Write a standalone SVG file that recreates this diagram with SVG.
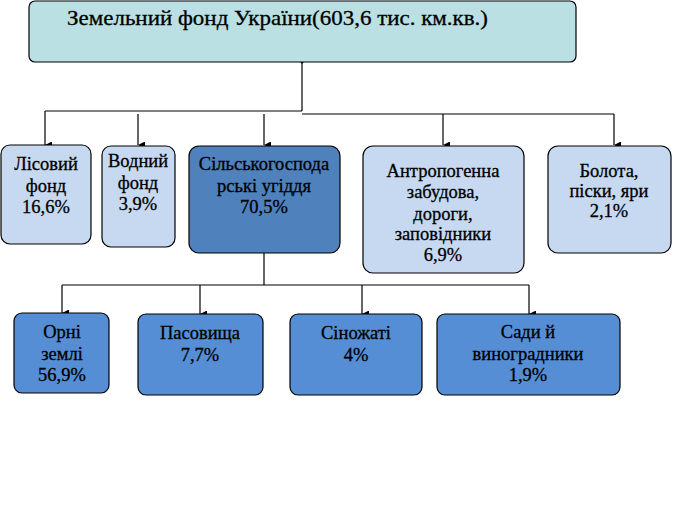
<svg xmlns="http://www.w3.org/2000/svg" width="700" height="516" viewBox="0 0 700 516">
<defs>
<style>
.box{stroke:#000;stroke-width:1.2}
.top{fill:#BBE0E3}
.lt{fill:#C6D9F1}
.dk{fill:#4F81BD}
.md{fill:#558ED5}
.ln{stroke:#000;stroke-width:1.2;fill:none}
.lbl text{stroke:#000;stroke-width:0.3}
</style>
<marker id="ah" markerWidth="8" markerHeight="8" refX="3.5" refY="7" orient="auto" markerUnits="userSpaceOnUse">
<path d="M0,0 L7,0 L3.5,7 Z" fill="#000"/>
</marker>
</defs>
<rect width="700" height="516" fill="#fff"/>
<g id="connectors">
<path class="ln" d="M302,62 V111"/>
<path class="ln" d="M45,111 H302" stroke-width="2"/>
<path class="ln" d="M302,114 H614"/>
<path class="ln" d="M45,111 V145" marker-end="url(#ah)"/>
<path class="ln" d="M138,114 V145" marker-end="url(#ah)"/>
<path class="ln" d="M264,114 V145" marker-end="url(#ah)"/>
<path class="ln" d="M443,114 V145" marker-end="url(#ah)"/>
<path class="ln" d="M614,114 V145" marker-end="url(#ah)"/>
<path class="ln" d="M264,253 V285"/>
<path class="ln" d="M62,285 H529"/>
<path class="ln" d="M62,285 V313" marker-end="url(#ah)"/>
<path class="ln" d="M200,285 V314" marker-end="url(#ah)"/>
<path class="ln" d="M362,285 V314" marker-end="url(#ah)"/>
<path class="ln" d="M529,285 V314" marker-end="url(#ah)"/>
<circle cx="302" cy="62" r="1.5" fill="#000"/>
</g>
<g class="lbl" font-family="Liberation Serif, serif" font-size="18.5" text-anchor="middle" fill="#000">
<g id="n-root">
<rect class="box top" x="29" y="1" width="547" height="61" rx="6"/>
<text x="67" y="25" font-size="21" text-anchor="start" textLength="421" lengthAdjust="spacingAndGlyphs">Земельний фонд України(603,6 тис. км.кв.)</text>
</g>
<g id="n-lis">
<rect class="box lt" x="1" y="145" width="90" height="99" rx="9"/>
<text x="46" y="170">Лісовий</text>
<text x="46" y="192">фонд</text>
<text x="46" y="213">16,6%</text>
</g>
<g id="n-vod">
<rect class="box lt" x="102" y="146" width="73" height="101" rx="9"/>
<text x="138" y="167">Водний</text>
<text x="138" y="189">фонд</text>
<text x="138" y="210">3,9%</text>
</g>
<g id="n-silg">
<rect class="box dk" x="189" y="146" width="151" height="107" rx="10"/>
<text x="264" y="170">Сільськогоспода</text>
<text x="264" y="192">рські угіддя</text>
<text x="264" y="213">70,5%</text>
</g>
<g id="n-antr">
<rect class="box lt" x="363" y="146" width="161" height="127" rx="10"/>
<text x="443" y="177">Антропогенна</text>
<text x="443" y="198">забудова,</text>
<text x="443" y="220">дороги,</text>
<text x="443" y="240">заповідники</text>
<text x="443" y="261">6,9%</text>
</g>
<g id="n-bol">
<rect class="box lt" x="548" y="146" width="123" height="107" rx="10"/>
<text x="609" y="177">Болота,</text>
<text x="609" y="197">піски, яри</text>
<text x="609" y="217">2,1%</text>
</g>
<g id="n-orni">
<rect class="box md" x="14" y="313" width="95" height="80" rx="8"/>
<text x="62" y="338">Орні</text>
<text x="62" y="360">землі</text>
<text x="62" y="381">56,9%</text>
</g>
<g id="n-pas">
<rect class="box md" x="138" y="314" width="125" height="81" rx="8"/>
<text x="200" y="339">Пасовища</text>
<text x="200" y="361">7,7%</text>
</g>
<g id="n-sin">
<rect class="box md" x="290" y="314" width="132" height="81" rx="8"/>
<text x="356" y="339">Сіножаті</text>
<text x="356" y="361">4%</text>
</g>
<g id="n-sad">
<rect class="box md" x="437" y="314" width="183" height="81" rx="8"/>
<text x="528" y="338">Сади й</text>
<text x="528" y="360">виноградники</text>
<text x="528" y="381">1,9%</text>
</g>
</g>
</svg>
